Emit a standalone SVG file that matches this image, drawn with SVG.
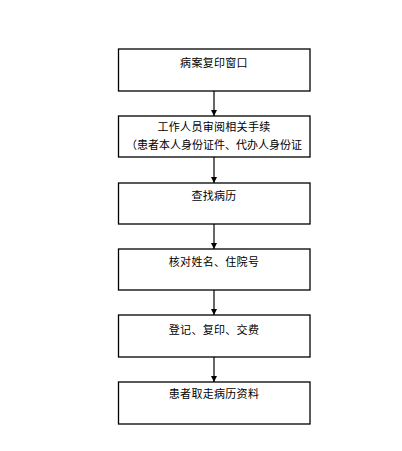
<svg xmlns="http://www.w3.org/2000/svg" width="402" height="451" viewBox="0 0 402 451">
<style>
.box{fill:#fff;stroke:#000;stroke-width:1.3}
.t{font-family:"Noto Sans CJK SC","Liberation Sans",sans-serif;font-size:11px;fill:#000;letter-spacing:0.3px}
.c{stroke:#000;stroke-width:1.2;fill:none}
</style>
<defs>
<marker id="ah" viewBox="0 0 8 8" refX="8" refY="4" markerWidth="6" markerHeight="7" markerUnits="userSpaceOnUse" orient="auto">
<path d="M0,0 L8,4 L0,8 Z" fill="#000"/>
</marker>
</defs>
<rect width="402" height="451" fill="#fff"/>
<g id="connectors">
<line class="c" x1="214" y1="91" x2="214" y2="116" marker-end="url(#ah)"/>
<line class="c" x1="214" y1="157" x2="214" y2="183" marker-end="url(#ah)"/>
<line class="c" x1="214" y1="224" x2="214" y2="249" marker-end="url(#ah)"/>
<line class="c" x1="214" y1="290" x2="214" y2="315" marker-end="url(#ah)"/>
<line class="c" x1="214" y1="357" x2="214" y2="382" marker-end="url(#ah)"/>
</g>
<g id="n1"><rect class="box" x="118.5" y="49" width="191.5" height="42"/><text class="t" x="214" y="66.5" text-anchor="middle">病案复印窗口</text></g>
<g id="n2"><rect class="box" x="118.5" y="116" width="191.5" height="41"/><text class="t" x="214" y="131" text-anchor="middle">工作人员审阅相关手续</text><text class="t" x="126" y="148.5" textLength="176" lengthAdjust="spacing" style="letter-spacing:0">（患者本人身份证件、代办人身份证</text></g>
<g id="n3"><rect class="box" x="118.5" y="183" width="191.5" height="41"/><text class="t" x="214" y="200" text-anchor="middle">查找病历</text></g>
<g id="n4"><rect class="box" x="118.5" y="249" width="191.5" height="41"/><text class="t" x="214" y="266" text-anchor="middle">核对姓名、住院号</text></g>
<g id="n5"><rect class="box" x="118.5" y="315" width="191.5" height="42"/><text class="t" x="214" y="334" text-anchor="middle">登记、复印、交费</text></g>
<g id="n6"><rect class="box" x="118.5" y="382" width="191.5" height="42"/><text class="t" x="214" y="398" text-anchor="middle">患者取走病历资料</text></g>
</svg>
